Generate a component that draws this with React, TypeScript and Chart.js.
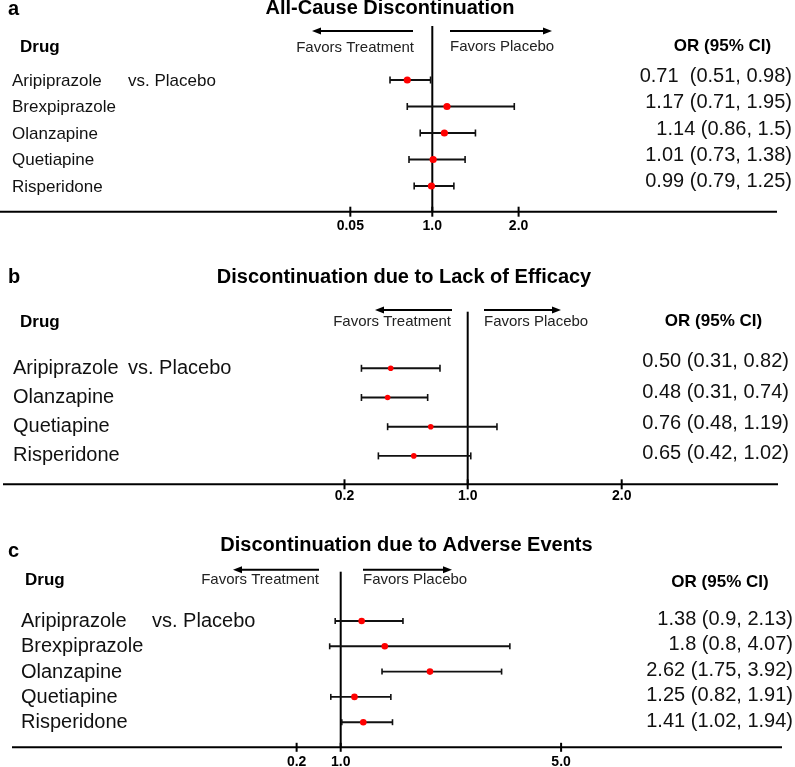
import React, { useEffect, useRef } from "react";
import { Chart, registerables } from "chart.js";

Chart.register(...registerables);

const FONT = '"Liberation Sans", Arial, Helvetica, sans-serif';

// ---------- Data ----------
// Panel a: All-Cause Discontinuation
const drugsA = ["Aripiprazole", "Brexpiprazole", "Olanzapine", "Quetiapine", "Risperidone"];
const orA = [0.71, 1.17, 1.14, 1.01, 0.99];
const lowA = [0.51, 0.71, 0.86, 0.73, 0.79];
const highA = [0.98, 1.95, 1.5, 1.38, 1.25];
const orTextA = ["0.71  (0.51, 0.98)", "1.17 (0.71, 1.95)", "1.14 (0.86, 1.5)", "1.01 (0.73, 1.38)", "0.99 (0.79, 1.25)"];
const tickValsA = [0.05, 1.0, 2.0];
const tickLabelsA = ["0.05", "1.0", "2.0"];

// Panel b: Discontinuation due to Lack of Efficacy
const drugsB = ["Aripiprazole", "Olanzapine", "Quetiapine", "Risperidone"];
const orB = [0.5, 0.48, 0.76, 0.65];
const lowB = [0.31, 0.31, 0.48, 0.42];
const highB = [0.82, 0.74, 1.19, 1.02];
const orTextB = ["0.50 (0.31, 0.82)", "0.48 (0.31, 0.74)", "0.76 (0.48, 1.19)", "0.65 (0.42, 1.02)"];
const tickValsB = [0.2, 1.0, 2.0];
const tickLabelsB = ["0.2", "1.0", "2.0"];

// Panel c: Discontinuation due to Adverse Events
const drugsC = ["Aripiprazole", "Brexpiprazole", "Olanzapine", "Quetiapine", "Risperidone"];
const orC = [1.38, 1.8, 2.62, 1.25, 1.41];
const lowC = [0.9, 0.8, 1.75, 0.82, 1.02];
const highC = [2.13, 4.07, 3.92, 1.91, 1.94];
const orTextC = ["1.38 (0.9, 2.13)", "1.8 (0.8, 4.07)", "2.62 (1.75, 3.92)", "1.25 (0.82, 1.91)", "1.41 (1.02, 1.94)"];
const tickValsC = [0.2, 1.0, 5.0];
const tickLabelsC = ["0.2", "1.0", "5.0"];

const titles = [
  "All-Cause Discontinuation",
  "Discontinuation due to Lack of Efficacy",
  "Discontinuation due to Adverse Events",
];
const letters = ["a", "b", "c"];

// ---------- Layout (pixels, local to each panel canvas) ----------
type Layout = {
  top: number; height: number;
  refPx: number; pxPerUnit: number;
  row0: number; rowGap: number;
  letterX: number; letterBase: number;
  titleCx: number; titleY: number;
  headerDrugX: number; headerDrugY: number;
  favTRight: number; favTY: number; favPLeft: number; favPY: number;
  arrowY: number; arrowL: [number, number]; arrowR: [number, number];
  orHeadCx: number; orHeadY: number;
  drugX: number; drugFont: number; drugDy: number; vsX: number;
  orRight: number; orY0: number; orGap: number;
  refTop: number; axisY: number; axisL: number; axisR: number;
  tickHalf: number; tickLabelY: number;
  pointR: number; capHalf: number;
};

const layouts: Layout[] = [
  {
    top: 0, height: 245,
    refPx: 432.3, pxPerUnit: 86.3,
    row0: 80, rowGap: 26.5,
    letterX: 8, letterBase: 15,
    titleCx: 390, titleY: 8.5,
    headerDrugX: 20, headerDrugY: 47.5,
    favTRight: 414, favTY: 48, favPLeft: 450, favPY: 47,
    arrowY: 31, arrowL: [413, 312], arrowR: [450, 552],
    orHeadCx: 722.5, orHeadY: 46.5,
    drugX: 12, drugFont: 17, drugDy: 1, vsX: 128,
    orRight: 792, orY0: 76.7, orGap: 26.25,
    refTop: 26, axisY: 211.7, axisL: 0, axisR: 777,
    tickHalf: 5, tickLabelY: 226,
    pointR: 3.6, capHalf: 3.5,
  },
  {
    top: 245, height: 260,
    refPx: 467.7, pxPerUnit: 154,
    row0: 123.3, rowGap: 29.2,
    letterX: 8, letterBase: 38.3,
    titleCx: 404, titleY: 32.5,
    headerDrugX: 20, headerDrugY: 77.5,
    favTRight: 451, favTY: 77, favPLeft: 484, favPY: 77,
    arrowY: 65, arrowL: [452, 375], arrowR: [484, 561],
    orHeadCx: 713.5, orHeadY: 76,
    drugX: 13, drugFont: 20, drugDy: 0, vsX: 128,
    orRight: 789, orY0: 116.7, orGap: 30.67,
    refTop: 66.7, axisY: 239.3, axisL: 3, axisR: 778,
    tickHalf: 5, tickLabelY: 251.2,
    pointR: 2.8, capHalf: 3.5,
  },
  {
    top: 505, height: 262,
    refPx: 340.7, pxPerUnit: 55.1,
    row0: 116, rowGap: 25.3,
    letterX: 8, letterBase: 51.7,
    titleCx: 406.5, titleY: 40,
    headerDrugX: 25, headerDrugY: 75.8,
    favTRight: 319, favTY: 75.3, favPLeft: 363, favPY: 75.3,
    arrowY: 64.7, arrowL: [319, 233], arrowR: [363, 452],
    orHeadCx: 720, orHeadY: 77.8,
    drugX: 21, drugFont: 20, drugDy: 0.5, vsX: 152,
    orRight: 793, orY0: 114, orGap: 25.6,
    refTop: 66.7, axisY: 242.3, axisL: 12, axisR: 782,
    tickHalf: 4.5, tickLabelY: 257.5,
    pointR: 3.3, capHalf: 3,
  },
];

type PanelData = {
  drugs: string[]; or: number[]; lo: number[]; hi: number[]; orText: string[];
  tickVals: number[]; tickLabels: string[]; title: string; letter: string;
};

const panelData: PanelData[] = [
  { drugs: drugsA, or: orA, lo: lowA, hi: highA, orText: orTextA, tickVals: tickValsA, tickLabels: tickLabelsA, title: titles[0], letter: letters[0] },
  { drugs: drugsB, or: orB, lo: lowB, hi: highB, orText: orTextB, tickVals: tickValsB, tickLabels: tickLabelsB, title: titles[1], letter: letters[1] },
  { drugs: drugsC, or: orC, lo: lowC, hi: highC, orText: orTextC, tickVals: tickValsC, tickLabels: tickLabelsC, title: titles[2], letter: letters[2] },
];

const W = 795;

function line(ctx: CanvasRenderingContext2D, x1: number, y1: number, x2: number, y2: number) {
  ctx.beginPath();
  ctx.moveTo(x1, y1);
  ctx.lineTo(x2, y2);
  ctx.stroke();
}

function arrow(ctx: CanvasRenderingContext2D, xFrom: number, xTo: number, y: number) {
  const dir = xTo > xFrom ? 1 : -1;
  const headLen = 9;
  ctx.lineWidth = 2;
  line(ctx, xFrom, y, xTo - dir * headLen * 0.6, y);
  ctx.beginPath();
  ctx.moveTo(xTo, y);
  ctx.lineTo(xTo - dir * headLen, y - 3.5);
  ctx.lineTo(xTo - dir * headLen, y + 3.5);
  ctx.closePath();
  ctx.fill();
}

function makePlugin(d: PanelData, L: Layout) {
  return {
    id: "forest_" + d.letter,
    beforeDatasetsDraw(chart: any) {
      const ctx: CanvasRenderingContext2D = chart.ctx;
      const xs = chart.scales.x;
      const ys = chart.scales.y;
      ctx.save();
      ctx.strokeStyle = "#000";
      ctx.fillStyle = "#000";
      const x1 = xs.getPixelForValue(1);
      ctx.lineWidth = 2;
      line(ctx, x1, L.refTop, x1, L.axisY);
      line(ctx, L.axisL, L.axisY, L.axisR, L.axisY);
      ctx.font = `bold 14px ${FONT}`;
      ctx.textAlign = "center";
      ctx.textBaseline = "middle";
      d.tickVals.forEach((t, i) => {
        const x = xs.getPixelForValue(t);
        ctx.lineWidth = 2;
        line(ctx, x, L.axisY - L.tickHalf, x, L.axisY + L.tickHalf);
        ctx.fillText(d.tickLabels[i], x, L.tickLabelY);
      });
      ctx.strokeStyle = "#111";
      d.lo.forEach((lo, i) => {
        const y = ys.getPixelForValue(i);
        const xl = xs.getPixelForValue(lo);
        const xh = xs.getPixelForValue(d.hi[i]);
        ctx.lineWidth = 1.9;
        line(ctx, xl, y, xh, y);
        ctx.lineWidth = 1.6;
        line(ctx, xl, y - L.capHalf, xl, y + L.capHalf);
        line(ctx, xh, y - L.capHalf, xh, y + L.capHalf);
      });
      ctx.restore();
    },
    afterDraw(chart: any) {
      const ctx: CanvasRenderingContext2D = chart.ctx;
      const ys = chart.scales.y;
      ctx.save();
      ctx.fillStyle = "#000";
      ctx.strokeStyle = "#000";
      ctx.textBaseline = "alphabetic";
      ctx.textAlign = "left";
      ctx.font = `bold 20px ${FONT}`;
      ctx.fillText(d.letter, L.letterX, L.letterBase);
      ctx.textBaseline = "middle";
      ctx.textAlign = "center";
      ctx.fillText(d.title, L.titleCx, L.titleY);
      ctx.font = `bold 17px ${FONT}`;
      ctx.textAlign = "left";
      ctx.fillText("Drug", L.headerDrugX, L.headerDrugY);
      ctx.textAlign = "center";
      ctx.fillText("OR (95% CI)", L.orHeadCx, L.orHeadY);
      ctx.font = `15px ${FONT}`;
      ctx.fillStyle = "#222";
      ctx.textAlign = "right";
      ctx.fillText("Favors Treatment", L.favTRight, L.favTY);
      ctx.textAlign = "left";
      ctx.fillText("Favors Placebo", L.favPLeft, L.favPY);
      ctx.fillStyle = "#000";
      arrow(ctx, L.arrowL[0], L.arrowL[1], L.arrowY);
      arrow(ctx, L.arrowR[0], L.arrowR[1], L.arrowY);
      ctx.font = `${L.drugFont}px ${FONT}`;
      ctx.fillStyle = "#111";
      ctx.textAlign = "left";
      d.drugs.forEach((name, i) => {
        const y = ys.getPixelForValue(i) + L.drugDy;
        ctx.fillText(name, L.drugX, y);
        if (i === 0) ctx.fillText("vs. Placebo", L.vsX, y);
      });
      ctx.font = `20px ${FONT}`;
      ctx.textAlign = "right";
      d.orText.forEach((t, i) => {
        ctx.fillText(t, L.orRight, L.orY0 + i * L.orGap);
      });
      ctx.restore();
    },
  };
}

function PanelChart({ d, L }: { d: PanelData; L: Layout }) {
  const ref = useRef<HTMLCanvasElement>(null);
  useEffect(() => {
    if (!ref.current) return;
    const xMin = 1 - L.refPx / L.pxPerUnit;
    const xMax = xMin + W / L.pxPerUnit;
    const yMin = 0 - L.row0 / L.rowGap;
    const yMax = yMin + L.height / L.rowGap;
    const chart = new Chart(ref.current, {
      type: "scatter",
      data: {
        datasets: [
          {
            data: d.or.map((v, i) => ({ x: v, y: i })),
            backgroundColor: "#ff0000",
            borderColor: "#ff0000",
            borderWidth: 0,
            pointRadius: L.pointR,
            pointHoverRadius: L.pointR,
          },
        ],
      },
      options: {
        responsive: false,
        animation: false,
        events: [],
        layout: { padding: 0, autoPadding: false },
        plugins: {
          legend: { display: false },
          tooltip: { enabled: false },
          title: { display: false },
        },
        scales: {
          x: { type: "linear", display: false, min: xMin, max: xMax, bounds: "data" },
          y: { type: "linear", display: false, reverse: true, min: yMin, max: yMax, bounds: "data" },
        },
      } as any,
      plugins: [makePlugin(d, L)],
    });
    return () => chart.destroy();
  }, [d, L]);
  return (
    <canvas
      ref={ref}
      width={W}
      height={L.height}
      style={{ position: "absolute", left: 0, top: L.top, width: W, height: L.height }}
    />
  );
}

export default function App() {
  return (
    <div style={{ position: "absolute", left: 0, top: 0, width: W, height: 767, background: "#fff" }}>
      {panelData.map((d, i) => (
        <PanelChart key={d.letter} d={d} L={layouts[i]} />
      ))}
    </div>
  );
}
